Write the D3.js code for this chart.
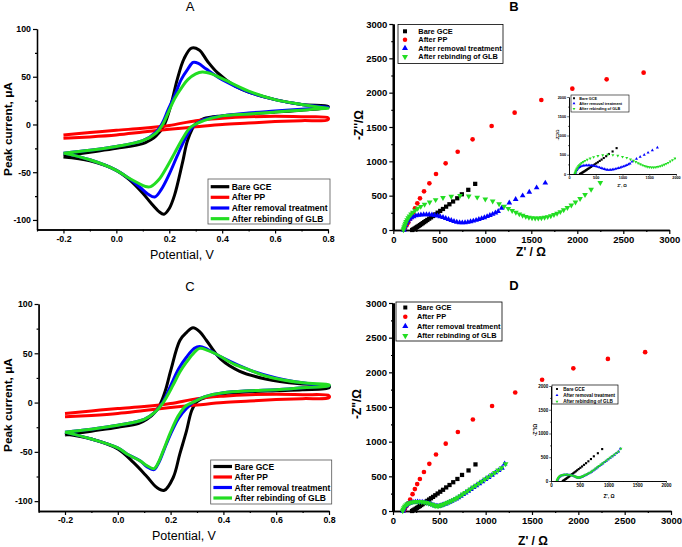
<!DOCTYPE html>
<html lang="en">
<head>
<meta charset="UTF-8">
<title>CV and EIS panels</title>
<script src="https://d3js.org/d3.v7.min.js"></script>
<style>
  body{margin:0;background:#fff;}
  svg{display:block;font-family:"Liberation Sans",Arial,sans-serif;}
</style>
</head>
<body>
<script>
// ---- data ----
const seriesNames = ["Bare GCE","After PP","After removal treatment","After rebinding of GLB"]
const seriesColors = ["#000000","#ff0000","#0000ff","#22dd22"]

// CV loops: [potential V, current uA], forward branch then reverse branch
const cvA_bare = [[-0.2,-33],[-0.1,-29],[0.0,-25],[0.1,-20],[0.13,-16],[0.15,-12],[0.18,-1],[0.205,19],[0.23,47],[0.256,69],[0.284,80],[0.313,78],[0.345,66],[0.383,54],[0.45,40],[0.5,34],[0.6,26],[0.7,21],[0.8,19],
  [0.8,18],[0.7,15],[0.6,13],[0.5,11],[0.4,9],[0.33,6],[0.3,1],[0.27,-16],[0.25,-40],[0.22,-74],[0.2,-88],[0.18,-94],[0.16,-91],[0.13,-82],[0.1,-72],[0.05,-58],[0.0,-48],[-0.1,-38],[-0.2,-34]]
const cvA_pp = [[-0.2,-11],[-0.1,-8.5],[0.0,-6],[0.1,-4],[0.2,-1],[0.3,4],[0.4,6.5],[0.5,8],[0.6,8.5],[0.7,8],[0.8,7],
  [0.8,5],[0.7,4],[0.6,3],[0.5,1.5],[0.4,0],[0.3,-2.5],[0.2,-5],[0.1,-8],[0.0,-11],[-0.1,-13],[-0.2,-14.5]]
const cvA_removal = [[-0.2,-30],[-0.1,-27],[0.0,-23],[0.1,-17],[0.15,-8],[0.175,2],[0.195,15],[0.22,30],[0.245,47],[0.27,58],[0.29,65],[0.31,64],[0.34,58],[0.4,47],[0.5,34],[0.6,26],[0.7,21],[0.8,18],
  [0.8,18],[0.7,16],[0.6,14],[0.5,12],[0.4,9],[0.33,5],[0.29,-2],[0.26,-15],[0.23,-33],[0.2,-52],[0.17,-68],[0.145,-76],[0.12,-73],[0.09,-66],[0.05,-57],[0.0,-48],[-0.1,-37],[-0.2,-30]]
const cvA_rebind = [[-0.2,-30],[-0.1,-27],[0.0,-23],[0.1,-17],[0.15,-9],[0.175,0],[0.2,15],[0.22,27],[0.25,40],[0.27,47],[0.3,53],[0.325,55],[0.36,53],[0.4,48],[0.5,35],[0.6,26],[0.7,21],[0.8,17],
  [0.8,17],[0.7,15],[0.6,13],[0.5,11],[0.4,9],[0.33,4],[0.28,-3],[0.25,-15],[0.22,-30],[0.19,-45],[0.16,-58],[0.13,-65],[0.11,-65],[0.08,-61],[0.04,-55],[0.0,-48],[-0.1,-37],[-0.2,-30]]

const cvC_bare = [[-0.2,-33],[-0.1,-29],[0.0,-25],[0.08,-21],[0.11,-17],[0.14,-10],[0.16,-2],[0.18,12],[0.2,32],[0.235,63],[0.26,71],[0.285,76],[0.31,72],[0.336,63],[0.39,44],[0.46,32],[0.56,24],[0.69,19],[0.8,17],
  [0.8,15],[0.7,13],[0.6,12],[0.5,11],[0.4,9],[0.34,6],[0.3,1],[0.28,-8],[0.26,-29],[0.235,-52],[0.21,-76],[0.176,-89],[0.147,-86],[0.11,-75],[0.06,-61],[0.0,-47],[-0.1,-37],[-0.2,-32]]
const cvC_pp = [[-0.2,-11],[-0.1,-8.5],[0.0,-6],[0.1,-4],[0.2,-1],[0.3,4],[0.4,6.5],[0.5,8],[0.6,8.5],[0.7,8],[0.8,7],
  [0.8,5],[0.7,4],[0.6,3],[0.5,1.5],[0.4,0],[0.3,-2.5],[0.2,-5],[0.1,-8],[0.0,-11],[-0.1,-13],[-0.2,-14.5]]
const cvC_removal = [[-0.2,-30],[-0.1,-27],[0.0,-23],[0.1,-17],[0.14,-10],[0.17,0],[0.2,17],[0.23,34],[0.26,46],[0.29,55],[0.31,57],[0.34,54],[0.4,45],[0.5,33],[0.6,25],[0.7,20],[0.8,17],
  [0.8,17],[0.7,15],[0.6,13],[0.5,12],[0.4,10],[0.33,6],[0.29,1],[0.26,-6],[0.23,-16],[0.2,-32],[0.175,-48],[0.155,-61],[0.137,-68],[0.11,-65],[0.084,-59],[0.04,-53],[0.0,-46],[-0.1,-37],[-0.2,-30]]
const cvC_rebind = [[-0.2,-30],[-0.1,-27],[0.0,-23],[0.1,-17],[0.14,-10],[0.172,0],[0.21,18],[0.235,31],[0.26,41],[0.29,51],[0.31,55],[0.34,53],[0.374,49],[0.44,39],[0.5,33],[0.56,27],[0.7,20],[0.8,18],
  [0.8,17],[0.7,15],[0.6,13],[0.5,12],[0.4,10],[0.33,6],[0.29,1],[0.255,-4],[0.23,-13],[0.2,-30],[0.172,-49],[0.155,-60],[0.137,-67],[0.11,-64],[0.084,-59],[0.04,-53],[0.0,-46],[-0.1,-37],[-0.2,-30]]

// Nyquist points: [Z' ohm, -Z'' ohm]
const eis_bare = [[205,0],[218,10],[232,22],[246,34],[260,46],[275,59],[290,72],[305,86],[320,100],[336,115],[352,130],[370,146],[390,165],[410,184],[432,204],[456,227],[482,252],[510,278],[540,306],[574,340],[610,375],[650,415],[695,462],[745,520],[815,585],[890,672]]
const eis_pp = [[115,5],[128,30],[145,70],[163,110],[185,165],[211,243],[236,316],[261,388],[290,461],[334,563],[392,680],[464,815],[569,971],[700,1140],[862,1320],[1069,1515],[1319,1709],[1609,1893],[1946,2058],[2319,2194],[2721,2291]]
const eisB_removal = [[115,0],[122,30],[132,65],[145,100],[160,132],[178,158],[198,180],[220,196],[245,208],[272,216],[300,221],[330,224],[360,225],[390,224],[420,221],[450,215],[480,207],[510,196],[540,184],[570,170],[600,155],[630,140],[660,127],[690,116],[720,109],[750,106],[780,108],[810,114],[840,122],[870,132],[900,143],[930,155],[960,168],[990,182],[1020,197],[1050,213],[1080,230],[1110,250],[1140,272],[1178,320],[1261,395],[1330,447],[1406,500],[1478,553],[1558,616],[1652,685]]
const eisB_rebind = [[110,0],[114,22],[119,45],[125,70],[132,95],[140,120],[150,148],[162,175],[176,202],[193,230],[213,258],[237,286],[265,314],[298,342],[340,372],[395,405],[460,440],[540,470],[630,490],[725,500],[820,492],[912,476],[1000,448],[1080,420],[1150,380],[1205,345],[1250,312],[1292,282],[1332,255],[1370,232],[1406,212],[1440,196],[1474,184],[1508,176],[1542,172],[1576,172],[1610,175],[1644,182],[1678,192],[1712,206],[1746,222],[1780,242],[1815,265],[1852,292],[1892,325],[1935,362],[1980,405],[2030,455],[2084,515],[2150,590],[2250,690]]
const eisD_removal = [[108,0],[113,22],[121,45],[131,66],[143,84],[158,99],[175,111],[195,120],[217,126],[241,130],[265,132],[290,131],[315,128],[340,123],[365,116],[389,107],[411,97],[431,87],[449,78],[466,72],[482,69],[498,71],[514,77],[532,85],[550,94],[570,104],[590,116],[612,129],[634,143],[658,159],[682,176],[706,194],[732,216],[758,239],[784,263],[812,288],[840,313],[870,340],[900,367],[932,396],[964,425],[998,456],[1032,487],[1068,519],[1104,552],[1140,585],[1176,619],[1205,680]]
const eisD_rebind = [[105,0],[110,22],[117,45],[127,67],[139,86],[154,101],[171,113],[191,122],[213,129],[237,133],[261,135],[286,134],[311,131],[336,126],[361,119],[385,110],[407,100],[427,90],[445,81],[461,75],[477,72],[493,74],[509,80],[527,88],[545,97],[565,107],[585,119],[607,132],[629,146],[653,162],[677,178],[701,196],[727,219],[753,242],[779,266],[807,291],[835,316],[865,343],[895,370],[927,399],[959,428],[993,459],[1027,490],[1063,522],[1099,555],[1135,588],[1171,621],[1215,680]]

const cvMajorX = [-0.2,0.0,0.2,0.4,0.6,0.8]
const cvMinorX = [-0.3,-0.1,0.1,0.3,0.5,0.7]
const cvMajorY = [-100,-50,0,50,100]
const cvMinorY = [-75,-25,25,75]
const eisMajor = [0,500,1000,1500,2000,2500,3000]
const eisMinor = [250,750,1250,1750,2250,2750]
const insetMajor = [0,500,1000,1500,2000]
const insetMinor = [250,750,1250,1750]

const svg = d3.select("body").append("svg").attr("width",682).attr("height",547)

function axes(x, y, o){
  const yb = y.range()[0], xl = x.range()[0]
  const list = [
    [d3.axisBottom(x).tickValues(o.xMinor).tickSize(o.minor).tickFormat(""), `translate(0,${yb})`, o.xw],
    [d3.axisLeft(y).tickValues(o.yMinor).tickSize(o.minor).tickFormat(""), `translate(${xl},0)`, o.yw],
    [d3.axisBottom(x).tickValues(o.xMajor).tickSize(o.major).tickPadding(o.pad).tickFormat(o.xFmt), `translate(0,${yb})`, o.xw],
    [d3.axisLeft(y).tickValues(o.yMajor).tickSize(o.major).tickPadding(o.pad).tickFormat(o.yFmt), `translate(${xl},0)`, o.yw]
  ]
  list.forEach(([ax, tr, w]) => {
    const g = svg.append("g").attr("transform", tr).call(ax.tickSizeOuter(0))
    g.attr("font-family", null).attr("font-size", o.fs).attr("font-weight", "bold")
    g.select(".domain").attr("stroke-width", w)
    g.selectAll(".tick line").attr("stroke-width", o.tw)
  })
}

function label(txt, x, y, size, weight, rot){
  svg.append("text").attr("transform", `translate(${x},${y})` + (rot ? " rotate(-90)" : ""))
    .attr("text-anchor","middle").attr("font-size", size).attr("font-weight", weight).text(txt)
}

function cvPanel(data, x, y, leg, t){
  axes(x, y, {xMajor:cvMajorX, xMinor:cvMinorX, yMajor:cvMajorY, yMinor:cvMinorY,
    xFmt:d=>d.toFixed(1), yFmt:d=>String(d), major:4, minor:2, pad:2, fs:8.8, xw:1.3, yw:1.3, tw:1.2})
  const line = d3.line().x(d=>x(d[0])).y(d=>y(d[1])).curve(d3.curveCatmullRom.alpha(0.5))
  data.forEach((s,i)=>{
    svg.append("path").attr("d", line(s)).attr("fill","none")
      .attr("stroke", seriesColors[i]).attr("stroke-width",3).attr("stroke-linejoin","round")
  })
  // legend
  svg.append("rect").attr("x",leg.x).attr("y",leg.y).attr("width",leg.w).attr("height",leg.h)
    .attr("fill","#fff").attr("stroke","#555").attr("stroke-width",0.8)
  seriesNames.forEach((n,i)=>{
    const ry = leg.rows[i]
    svg.append("line").attr("x1",leg.x+2.7).attr("x2",leg.x+21.3).attr("y1",ry).attr("y2",ry)
      .attr("stroke",seriesColors[i]).attr("stroke-width",3.2)
    svg.append("text").attr("x",leg.x+23.7).attr("y",ry+3).attr("font-size",8.5).attr("font-weight","bold").text(n)
  })
  label(t.title, t.tx, t.ty, 13, "normal")
  label("Peak current, μA", t.yx, t.yy, 11.8, "bold", true)
  label("Potential, V", t.xx, t.xy, 12.5, "normal")
}

const markerType = [d3.symbolSquare, d3.symbolCircle, d3.symbolTriangle, d3.symbolTriangle]
function marker(g, i, px, py, size){
  g.append("path").attr("d", d3.symbol(markerType[i], size)())
    .attr("transform", `translate(${px},${py})` + (i===3 ? " rotate(180)" : ""))
    .attr("fill", seriesColors[i])
}

function scatter(g, series, x, y, sizes){
  series.forEach(([i, s])=>{
    s.forEach(d=> marker(g, i, x(d[0]), y(d[1]), sizes[i]))
  })
}

function eisLegend(leg, which, size, fs){
  svg.append("rect").attr("x",leg.x).attr("y",leg.y).attr("width",leg.w).attr("height",leg.h)
    .attr("fill","#fff").attr("stroke","#000").attr("stroke-width",leg.sw)
  which.forEach((i,k)=>{
    marker(svg, i, leg.mx, leg.rows[k], size)
    svg.append("text").attr("x",leg.tx).attr("y",leg.rows[k]+fs*0.36).attr("font-size",fs)
      .attr("font-weight","bold").text(seriesNames[i])
  })
}

function eisPanel(o){
  const x = d3.scaleLinear().domain([0,3000]).range(o.xr)
  const y = d3.scaleLinear().domain([0,3000]).range(o.yr)
  axes(x, y, {xMajor:eisMajor, xMinor:eisMinor, yMajor:eisMajor, yMinor:eisMinor,
    xFmt:d=>String(d), yFmt:d=>String(d), major:4, minor:2, pad:2, fs:9.5, xw:1.6, yw:o.yw, tw:1.2})
  scatter(svg, [[0,eis_bare],[1,eis_pp],[2,o.removal],[3,o.rebind]], x, y, [18,17,14,14])
  eisLegend(o.leg, [0,1,2,3], 16, 7.4)

  // inset
  const ix = d3.scaleLinear().domain([0,2000]).range(o.ixr)
  const iy = d3.scaleLinear().domain([0,2000]).range(o.iyr)
  axes(ix, iy, {xMajor:insetMajor, xMinor:insetMinor, yMajor:insetMajor, yMinor:insetMinor,
    xFmt:d=>String(d), yFmt:d=>String(d), major:1.8, minor:1, pad:1, fs:o.ifs, xw:0.8, yw:0.8, tw:0.6})
  const cid = "clip" + o.title
  svg.append("clipPath").attr("id",cid).append("rect")
    .attr("x",o.ixr[0]).attr("y",o.iyr[1]).attr("width",o.ixr[1]-o.ixr[0]).attr("height",o.iyr[0]-o.iyr[1])
  const ig = svg.append("g").attr("clip-path",`url(#${cid})`)
  scatter(ig, [[0,eis_bare],[2,o.removal],[3,o.rebind]], ix, iy, [4.5,0,4,4])
  eisLegend(o.ileg, [0,2,3], 3.5, o.ilfs)
  label("Z', Ω", o.ilx[0], o.ilx[1], o.ifs+0.6, "bold")
  label("-Z''/Ω", o.ily[0], o.ily[1], o.ifs+0.6, "bold", true)

  label(o.title, o.t[0], o.t[1], 13, "bold")
  label(o.ylab, o.yl[0], o.yl[1], 12, "bold", true)
  label("Z' / Ω", o.xl[0], o.xl[1], 12, "bold")
}

// panel A
cvPanel([cvA_bare, cvA_pp, cvA_removal, cvA_rebind],
  d3.scaleLinear().domain([-0.3,0.8]).range([37,328]),
  d3.scaleLinear().domain([-110,100]).range([229.5,29]),
  {x:208, y:179, w:122, h:45, rows:[186.7,197.3,208,218.7]},
  {title:"A", tx:190, ty:11, yx:12, yy:129, xx:182, xy:259})

// panel C
cvPanel([cvC_bare, cvC_pp, cvC_removal, cvC_rebind],
  d3.scaleLinear().domain([-0.3,0.8]).range([38.6,329]),
  d3.scaleLinear().domain([-110,100]).range([511,304]),
  {x:210.7, y:460, w:121, h:44, rows:[466.5,477,487.5,498]},
  {title:"C", tx:190, ty:291, yx:12, yy:405, xx:184, xy:540})

// panel B
eisPanel({title:"B", xr:[393.3,669.3], yr:[230,24], yw:2.2, removal:eisB_removal, rebind:eisB_rebind,
  leg:{x:398, y:24.5, w:105, h:39, sw:0.8, mx:405, tx:418.3, rows:[31.3,39.7,48.3,56.8]},
  ixr:[569,676], iyr:[174,97], ifs:3.8, ilfs:3.8,
  ileg:{x:571, y:95, w:58, h:17, sw:0.6, mx:574, tx:579.3, rows:[98.3,103.5,108.7]},
  ilx:[622,187], ily:[559,135],
  t:[514,11], ylab:"-Z''/Ω", yl:[363,125], xl:[531,256]})

// panel D
eisPanel({title:"D", xr:[393,671], yr:[511,303], yw:3, removal:eisD_removal, rebind:eisD_rebind,
  leg:{x:396, y:302, w:106, h:39, sw:0.8, mx:405.3, tx:417, rows:[307.5,316.8,326.3,335.7]},
  ixr:[551,666], iyr:[481,386], ifs:4.5, ilfs:4.6,
  ileg:{x:552, y:385, w:66, h:19, sw:0.7, mx:557, tx:563.3, rows:[389,395.3,401.5]},
  ilx:[609,498], ily:[537,430],
  t:[514,290], ylab:"-Z\"/Ω", yl:[361,404], xl:[533,545]})
</script>
</body>
</html>
